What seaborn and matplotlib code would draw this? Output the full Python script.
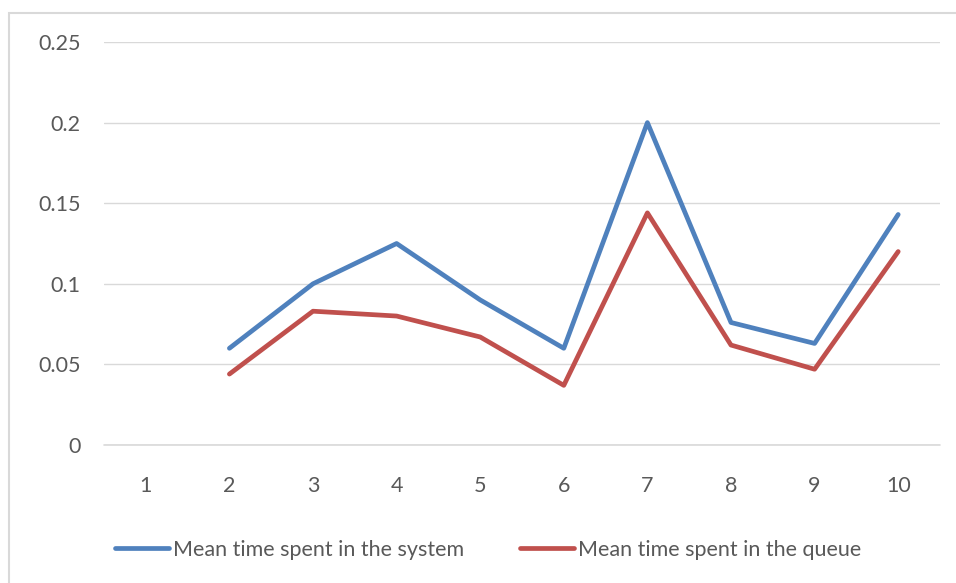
import numpy as np
import pandas as pd
import matplotlib.pyplot as plt
import seaborn as sns
from matplotlib.patches import Rectangle

# values
categories = [1, 2, 3, 4, 5, 6, 7, 8, 9, 10]
system_time = [np.nan, 0.060, 0.100, 0.125, 0.090, 0.060, 0.200, 0.076, 0.063, 0.143]
queue_time = [np.nan, 0.044, 0.083, 0.080, 0.067, 0.037, 0.144, 0.062, 0.047, 0.120]
series_names = ['Mean time spent in the system', 'Mean time spent in the queue']
y_ticks = [0, 0.05, 0.1, 0.15, 0.2, 0.25]
y_labels = ['0', '0.05', '0.1', '0.15', '0.2', '0.25']

df = pd.DataFrame({
    'x': categories * 2,
    'y': system_time + queue_time,
    'series': [series_names[0]] * len(categories) + [series_names[1]] * len(categories),
})

sns.set_style('white')
plt.rcParams['font.family'] = ['Lato', 'DejaVu Sans']

fig = plt.figure(figsize=(9.56, 5.83), dpi=100)
ax = fig.add_axes([104 / 956, 1 - 445 / 583, 836 / 956, 403 / 583])

# chart border (left/top visible, rest cropped in the original)
fig.patches.append(Rectangle((9 / 956, -0.05), 1.2, 1 - 13 / 583 + 0.05,
                             transform=fig.transFigure, fill=False,
                             edgecolor='#D9D9D9', linewidth=1.5))

sns.lineplot(data=df, x='x', y='y', hue='series', ax=ax,
             palette=['#4F81BD', '#C0504D'], linewidth=3.4, legend=False)

ax.set_xlim(0.5, 10.5)
ax.set_ylim(0, 0.25)
ax.set_xticks(categories)
ax.set_xticklabels([str(c) for c in categories])
ax.set_yticks(y_ticks)
ax.set_yticklabels(y_labels)
ax.yaxis.grid(True, color='#D9D9D9', linewidth=1)
ax.xaxis.grid(False)
ax.axhline(0, color='#D9D9D9', linewidth=1.2, clip_on=False, zorder=0.5)
for s in ax.spines.values():
    s.set_visible(False)
ax.tick_params(axis='both', length=0, labelsize=15.5, colors='#595959')
ax.tick_params(axis='y', pad=17)
ax.tick_params(axis='x', pad=22)
ax.set_xlabel('')
ax.set_ylabel('')

handles = [plt.Line2D([], [], color='#4F81BD', linewidth=3.4),
           plt.Line2D([], [], color='#C0504D', linewidth=3.4)]
leg = fig.legend(handles, series_names, loc='center', bbox_to_anchor=(488 / 956, 1 - 550 / 583),
                 ncol=2, frameon=False, fontsize=15.5, handlelength=2.5,
                 handletextpad=0.2, columnspacing=2.6)
for t in leg.get_texts():
    t.set_color('#595959')

fig.savefig('out.png', dpi=100)
